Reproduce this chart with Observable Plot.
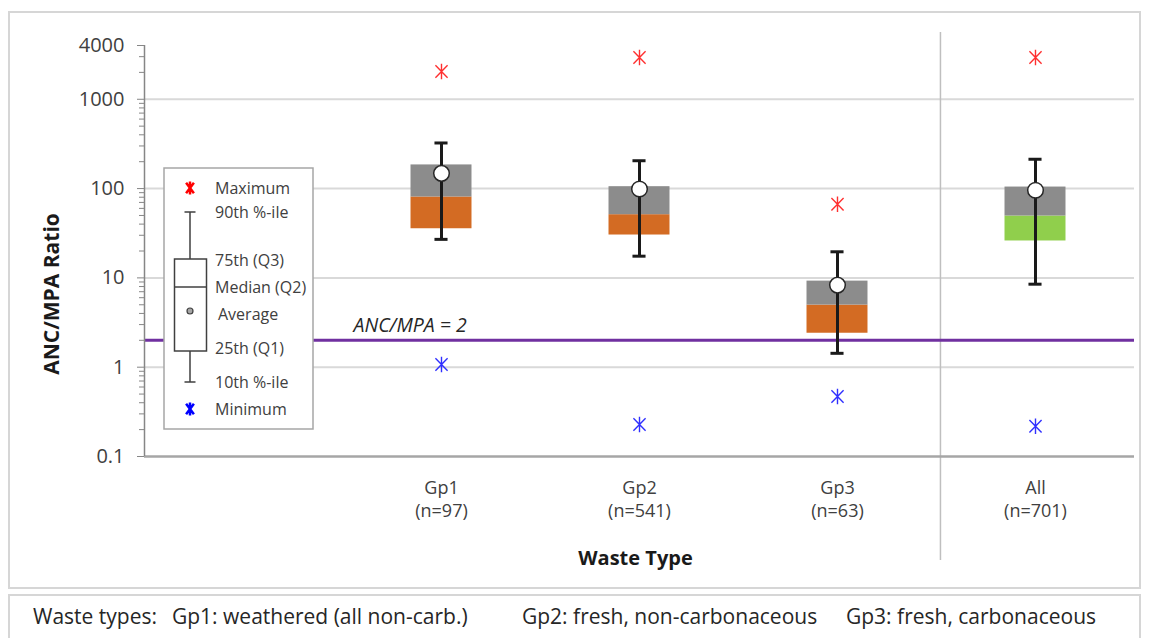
<!DOCTYPE html>
<html><head><meta charset="utf-8">
<script src="https://cdn.jsdelivr.net/npm/d3@7"></script>
<script src="https://cdn.jsdelivr.net/npm/@observablehq/plot@0.6"></script>
<style>
body{margin:0;background:#fff;font-family:"Open Sans",sans-serif;}
#wrap{position:relative;width:1149px;height:638px;overflow:hidden;background:#fff;}
#frame{position:absolute;left:8px;top:11px;width:1129px;height:574px;border:2px solid #d6d6d6;}
#capbox{position:absolute;left:8px;top:594px;width:1129px;height:70px;border:2px solid #d6d6d6;}
.cap{position:absolute;top:602px;font-size:21px;color:#262626;white-space:pre;font-family:"Open Sans",sans-serif;}
#chart,#legend{position:absolute;left:0;top:0;}
</style></head>
<body>
<div id="wrap">
  <div id="frame"></div>
  <div id="capbox"></div>
  <div id="chart"></div>
  <svg id="legend" width="1149" height="588"></svg>
  <div id="caption"></div>
</div>
<script>
// ---- data ----
const groups   = ["Gp1", "Gp2", "Gp3", "All"];
const counts   = [97, 541, 63, 701];
const slots    = [1, 2, 3, 4];
const minimum  = [1.07, 0.228, 0.47, 0.218];
const p10      = [27, 17.5, 1.43, 8.5];
const q1       = [35.5, 30.2, 2.4, 25.9];
const median   = [80.5, 51, 4.96, 49.3];
const q3       = [184, 105, 9.2, 104];
const p90      = [324, 205, 19.6, 213];
const maximum  = [2043, 2936, 66.7, 2936];
const average  = [148, 99, 8.3, 95.7];
const lowerFill = ["#D36B23", "#D36B23", "#D36B23", "#90CF4C"];
const yTicks   = [0.1, 1, 10, 100, 1000, 4000];
const yMinor   = [0.2,0.3,0.4,0.5,0.6,0.7,0.8,0.9, 2,3,4,5,6,7,8,9, 20,30,40,50,60,70,80,90, 200,300,400,500,600,700,800,900, 2000,3000];
const gridValues = [1, 10, 100, 1000];
const threshold = 2;
const thresholdLabel = "ANC/MPA = 2";
const separatorAt = 3.52;
const captionParts = [
  {x: 33,  t: "Waste types:"},
  {x: 172, t: "Gp1: weathered (all non-carb.)"},
  {x: 522, t: "Gp2: fresh, non-carbonaceous"},
  {x: 846, t: "Gp3: fresh, carbonaceous"}
];

const data = groups.map((g, i) => ({
  g, x: slots[i], n: counts[i], min: minimum[i], p10: p10[i], q1: q1[i],
  median: median[i], q3: q3[i], p90: p90[i], max: maximum[i], avg: average[i], low: lowerFill[i]
}));

const star = {draw(ctx, size) {
  const r = Math.sqrt(size / Math.PI), a = r * 0.78, b = r * 0.8;
  ctx.moveTo(0, -r); ctx.lineTo(0, r);
  ctx.moveTo(-a, -b); ctx.lineTo(a, b);
  ctx.moveTo(-a, b); ctx.lineTo(a, -b);
}};

const hw = 0.154, cw = 0.033;
const xDomain = [-0.5, 4.5];

const chart = Plot.plot({
  width: 1149, height: 588,
  marginLeft: 144, marginRight: 15, marginTop: 45, marginBottom: 132,
  x: {type: "linear", domain: xDomain},
  y: {type: "log", domain: [0.1, 4000]},
  style: {fontFamily: "'Open Sans', sans-serif", background: "transparent", overflow: "visible"},
  marks: [
    Plot.ruleY(gridValues, {stroke: "#d9d9d9", strokeWidth: 2}),
    Plot.ruleX([separatorAt], {stroke: "#bfbfbf", strokeWidth: 1.5, insetTop: -13, insetBottom: -104}),
    Plot.ruleY([threshold], {stroke: "#7030A0", strokeWidth: 3}),
    Plot.rect(data, {x1: d => d.x - hw, x2: d => d.x + hw, y1: "q1", y2: "median", fill: "low"}),
    Plot.rect(data, {x1: d => d.x - hw, x2: d => d.x + hw, y1: "median", y2: "q3", fill: "#8C8C8C"}),
    Plot.ruleY([0.1], {stroke: "#a6a6a6", strokeWidth: 2.5}),
    Plot.ruleX([xDomain[0]], {stroke: "#868686", strokeWidth: 1.5}),
    Plot.axisY({ticks: yMinor, tickSize: 5, tickFormat: () => "", stroke: "#868686", label: null}),
    Plot.axisY({ticks: yTicks, tickSize: 7, tickFormat: () => "", stroke: "#868686", label: null}),
    Plot.text(yTicks, {y: d => d, text: d => String(d), frameAnchor: "left", textAnchor: "end", dx: -20,
      fontSize: 20, fill: "#404040"}),
    Plot.axisX({ticks: slots, tickSize: 0, tickPadding: 21, fontSize: 18, lineHeight: 1.28, fill: "#404040",
      tickFormat: (d) => { const i = slots.indexOf(d); return `${groups[i]}\n(n=${counts[i]})`; }, label: null}),
    Plot.ruleX(data, {x: "x", y1: "p10", y2: "p90", stroke: "#1a1a1a", strokeWidth: 3}),
    Plot.ruleY(data, {y: "p90", x1: d => d.x - cw, x2: d => d.x + cw, stroke: "#1a1a1a", strokeWidth: 3}),
    Plot.ruleY(data, {y: "p10", x1: d => d.x - cw, x2: d => d.x + cw, stroke: "#1a1a1a", strokeWidth: 3}),
    Plot.dot(data, {x: "x", y: "avg", r: 7.8, fill: "white", stroke: "#262626", strokeWidth: 1.5}),
    Plot.dot(data, {x: "x", y: "max", symbol: star, r: 7.8, fill: "none", stroke: "#FF3030", strokeWidth: 1.4}),
    Plot.dot(data, {x: "x", y: "min", symbol: star, r: 7.8, fill: "none", stroke: "#3030FF", strokeWidth: 1.4}),
    Plot.text([thresholdLabel], {y: () => threshold, frameAnchor: "left", textAnchor: "start", dx: 209, dy: -15,
      fontStyle: "italic", fontSize: 19.5, fill: "#262626"}),
    Plot.text(["ANC/MPA Ratio"], {frameAnchor: "left", textAnchor: "middle", dx: -92, dy: 43, rotate: -90,
      fontWeight: "bold", fontSize: 21, fill: "#1a1a1a"}),
    Plot.text(["Waste Type"], {frameAnchor: "bottom", lineAnchor: "middle", dx: -4, dy: 102, fontWeight: "bold", fontSize: 20, fill: "#1a1a1a"})
  ]
});
document.getElementById("chart").appendChild(chart);

// ---- legend (schematic key) ----
const lg = d3.select("#legend");
lg.append("rect").attr("x", 164).attr("y", 168).attr("width", 149).attr("height", 261)
  .attr("fill", "white").attr("stroke", "#a6a6a6").attr("stroke-width", 1.5);
const starPath = (cx, cy, r) => { const a = r*0.6, b = r*0.8;
  return `M${cx},${cy-r}L${cx},${cy+r}M${cx-a},${cy-b}L${cx+a},${cy+b}M${cx-a},${cy+b}L${cx+a},${cy-b}`; };
lg.append("path").attr("d", starPath(190, 188, 6.5)).attr("stroke", "#ff0000").attr("stroke-width", 2.5).attr("fill", "none");
lg.append("path").attr("d", starPath(190, 409, 6.5)).attr("stroke", "#0000ff").attr("stroke-width", 2.5).attr("fill", "none");
const ink = "#404040";
lg.append("path").attr("d", "M190,212V259M184.5,212H195.5M190,351V382M184.5,382H195.5")
  .attr("stroke", ink).attr("stroke-width", 1.5).attr("fill", "none");
lg.append("rect").attr("x", 174.5).attr("y", 259).attr("width", 32).attr("height", 92)
  .attr("fill", "white").attr("stroke", ink).attr("stroke-width", 1.5);
lg.append("path").attr("d", "M174.5,287H206.5").attr("stroke", ink).attr("stroke-width", 1.5);
lg.append("circle").attr("cx", 190).attr("cy", 311).attr("r", 3).attr("fill", "#a6a6a6").attr("stroke", ink).attr("stroke-width", 1.2);
const legendLabels = [
  {t: "Maximum", y: 188, x: 215}, {t: "90th %-ile", y: 212, x: 215},
  {t: "75th (Q3)", y: 260, x: 215}, {t: "Median (Q2)", y: 287, x: 215},
  {t: "Average", y: 314, x: 218}, {t: "25th (Q1)", y: 348, x: 215},
  {t: "10th %-ile", y: 382, x: 215}, {t: "Minimum", y: 409, x: 215}
];
lg.selectAll("text.l").data(legendLabels).join("text")
  .attr("x", d => d.x).attr("y", d => d.y).attr("dy", "0.35em")
  .attr("font-family", "'Open Sans', sans-serif").attr("font-size", 16).attr("fill", ink)
  .text(d => d.t);

// ---- caption ----
const cap = document.getElementById("caption");
captionParts.forEach(p => {
  const s = document.createElement("span");
  s.className = "cap"; s.style.left = p.x + "px"; s.textContent = p.t;
  cap.appendChild(s);
});
</script>
</body></html>
